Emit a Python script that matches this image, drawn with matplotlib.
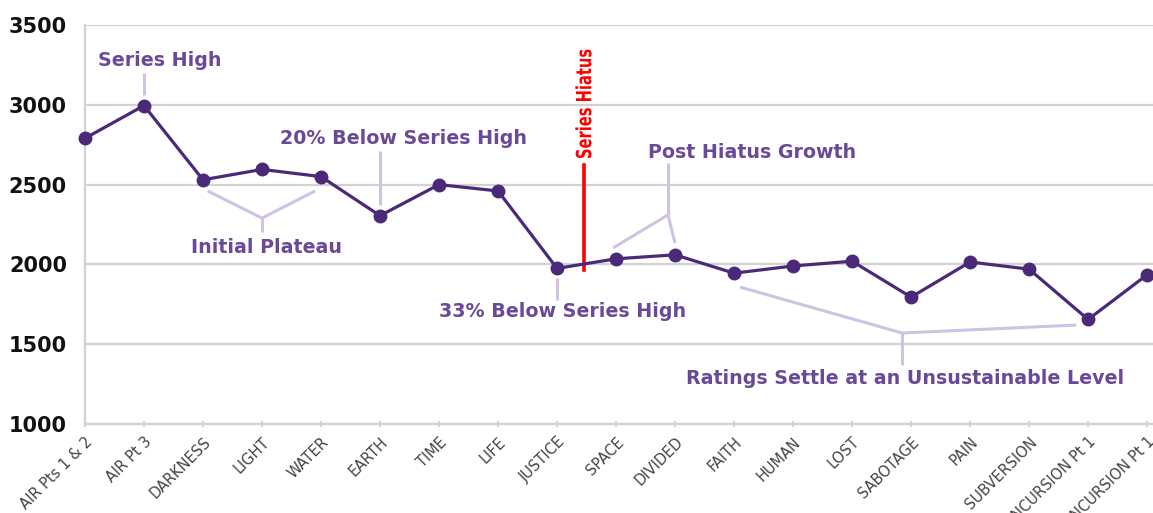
import matplotlib
matplotlib.use("Agg")
import matplotlib.pyplot as plt
from matplotlib.textpath import TextPath
from matplotlib.patches import PathPatch
from matplotlib.font_manager import FontProperties
from matplotlib.transforms import Affine2D, ScaledTranslation

episodes = ["AIR Pts 1 & 2", "AIR Pt 3", "DARKNESS", "LIGHT", "WATER", "EARTH", "TIME", "LIFE",
            "JUSTICE", "SPACE", "DIVIDED", "FAITH", "HUMAN", "LOST", "SABOTAGE", "PAIN",
            "SUBVERSION", "INCURSION Pt 1", "INCURSION Pt 1"]
ratings = [2790, 2995, 2530, 2595, 2550, 2305, 2500, 2460, 1975, 2035, 2060, 1945, 1990,
           2020, 1795, 2015, 1970, 1655, 1935]
yticks = [1000, 1500, 2000, 2500, 3000, 3500]

LINE = "#4a2a78"
TXT = "#6a4a98"
CALL = "#cfc2e2"
GRID = "#d2d2d2"

fig = plt.figure(figsize=(11.53, 5.13), dpi=100)
ax = fig.add_axes([0.0737, 0.1735, 0.9263, 0.7778])
x = list(range(len(episodes)))

ax.set_ylim(1000, 3500)
ax.set_xlim(0, 18.1)
ax.set_yticks(yticks)
ax.set_yticklabels([str(t) for t in yticks], fontsize=15, fontweight="bold", color="#111")
ax.grid(axis="y", color=GRID, lw=1.6)
ax.set_axisbelow(True)
for s in ["top", "right"]:
    ax.spines[s].set_visible(False)
for s in ["left", "bottom"]:
    ax.spines[s].set_color(GRID); ax.spines[s].set_linewidth(1.6)
ax.tick_params(axis="y", length=0, pad=13)
ax.tick_params(axis="x", direction="inout", length=5, width=1.5, color=GRID, pad=5)
ax.set_xticks(x)
ax.set_xticklabels(episodes, rotation=45, ha="right", va="top", rotation_mode="anchor",
                   fontsize=10.5, color="#444")

# callout brackets
ck = dict(color=CALL, lw=2.2, solid_capstyle="butt", zorder=2)
ax.plot([1, 1], [3060, 3200], **ck)
ax.plot([5, 5], [2370, 2710], **ck)
ax.plot([2.08, 3.0, 3.9], [2460, 2290, 2460], **ck)
ax.plot([3.0, 3.0], [2290, 2200], **ck)
ax.plot([8, 8], [1780, 1915], **ck)
ax.plot([9.88, 9.88], [2635, 2310], **ck)
ax.plot([8.95, 9.88, 10.0], [2103, 2310, 2134], **ck)
ax.plot([11.1, 13.85, 16.8], [1858, 1570, 1620], **ck)
ax.plot([13.85, 13.85], [1570, 1370], **ck)

tk = dict(color=TXT, fontsize=13.7, fontweight="bold", ha="center", va="center")
ax.text(1.27, 3275, "Series High", **tk)
ax.text(5.39, 2786, "20% Below Series High", **tk)
ax.text(3.08, 2103, "Initial Plateau", **tk)
ax.text(8.1, 1702, "33% Below Series High", **tk)
ax.text(11.3, 2704, "Post Hiatus Growth", **tk)
ax.text(13.9, 1282, "Ratings Settle at an Unsustainable Level", **tk)

# hiatus marker, with a condensed vertical label built from a text path
ax.plot([8.45, 8.45], [1965, 2625], color="#ff0000", lw=2.6, zorder=3)
em = 21
tp = TextPath((0, 0), "Series Hiatus", size=1,
              prop=FontProperties(family="DejaVu Sans", weight="bold"))
tr = (Affine2D().scale(0.7 * em, em).rotate_deg(90).translate(0.729 * em / 2, 0)
      + ScaledTranslation(8.45, 2660, ax.transData))
ax.add_patch(PathPatch(tp, transform=tr, facecolor="#ff0000", edgecolor="none", zorder=3))

ax.plot(x, ratings, color=LINE, lw=2.3, marker="o", ms=9, zorder=4, clip_on=False)

fig.savefig("out.png", dpi=100, facecolor="white")
